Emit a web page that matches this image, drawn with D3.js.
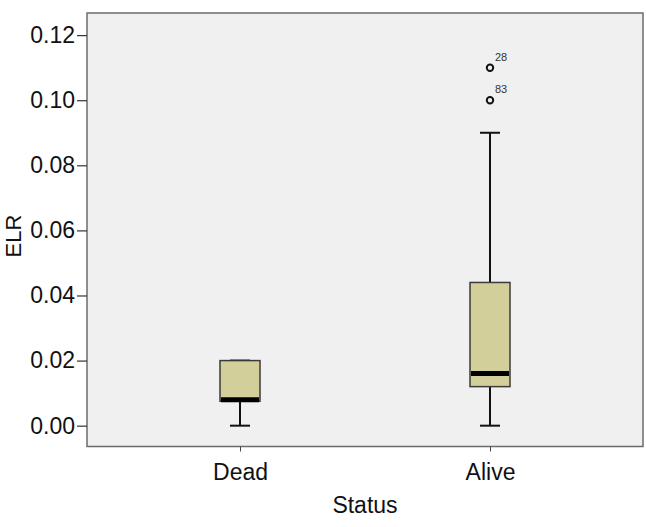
<!DOCTYPE html>
<html>
<head>
<meta charset="utf-8">
<script src="https://cdn.jsdelivr.net/npm/d3@7.9.0/dist/d3.min.js"></script>
<style>
  body { margin: 0; background: #fff; }
  svg text { font-family: Arial, "Liberation Sans", sans-serif; }
</style>
</head>
<body>
<svg id="chart" width="646" height="527"></svg>
<script>
// data
const groups = ["Dead", "Alive"];
const mins = [0.0, 0.0];
const q1s = [0.0075, 0.012];
const medians = [0.008, 0.016];
const q3s = [0.02, 0.044];
const maxs = [0.02, 0.09];
const outlierGroup = ["Alive", "Alive"];
const outlierValues = [0.11, 0.10];
const outlierIds = ["28", "83"];
const yTicks = [0.00, 0.02, 0.04, 0.06, 0.08, 0.10, 0.12];

const svg = d3.select("#chart");
const plotLeft = 87, plotRight = 643, plotTop = 13, plotBottom = 446.5;

const x = d3.scalePoint()
    .domain(groups)
    .range([plotLeft, plotRight])
    .padding(0.612);

const y = d3.scaleLinear()
    .domain([-0.0064, 0.1268])
    .range([plotBottom, plotTop]);

// plot background + frame
svg.append("rect")
    .attr("x", plotLeft).attr("y", plotTop)
    .attr("width", plotRight - plotLeft).attr("height", plotBottom - plotTop)
    .attr("fill", "#f0f0f0")
    .attr("stroke", "#6b6b6b")
    .attr("stroke-width", 1.5);

// y axis
const yAxis = svg.append("g")
    .attr("transform", `translate(${plotLeft},0)`)
    .call(d3.axisLeft(y).tickValues(yTicks).tickFormat(d3.format(".2f"))
        .tickSize(10).tickSizeOuter(0).tickPadding(2));
yAxis.select(".domain").remove();
yAxis.selectAll(".tick line").attr("stroke", "#333").attr("stroke-width", 1.2);
yAxis.selectAll(".tick text").attr("font-size", 23).attr("fill", "#111");

// x axis
const xAxis = svg.append("g")
    .attr("transform", `translate(0,${plotBottom})`)
    .call(d3.axisBottom(x).tickSize(5).tickSizeOuter(0).tickPadding(12));
xAxis.select(".domain").remove();
xAxis.selectAll(".tick line").attr("stroke", "#444");
xAxis.selectAll(".tick text").attr("font-size", 23).attr("fill", "#111");

// axis titles
svg.append("text")
    .attr("transform", "translate(21,236) rotate(-90)")
    .attr("text-anchor", "middle")
    .attr("font-size", 22)
    .attr("fill", "#111")
    .text("ELR");

svg.append("text")
    .attr("x", 365).attr("y", 513)
    .attr("text-anchor", "middle")
    .attr("font-size", 23)
    .attr("fill", "#111")
    .text("Status");

// boxes
const boxW = 40, capW = 20;
const boxes = groups.map((g, i) => ({
  g, min: mins[i], q1: q1s[i], med: medians[i], q3: q3s[i], max: maxs[i]
}));

const bx = svg.selectAll(".box")
    .data(boxes)
    .join("g")
    .attr("class", "box");

// whiskers
bx.append("line")
    .attr("x1", d => x(d.g)).attr("x2", d => x(d.g))
    .attr("y1", d => y(d.min)).attr("y2", d => y(d.q1))
    .attr("stroke", "#111").attr("stroke-width", 2);
bx.append("line")
    .attr("x1", d => x(d.g)).attr("x2", d => x(d.g))
    .attr("y1", d => y(d.q3)).attr("y2", d => y(d.max))
    .attr("stroke", "#111").attr("stroke-width", 2);
// caps
bx.append("line")
    .attr("x1", d => x(d.g) - capW / 2).attr("x2", d => x(d.g) + capW / 2)
    .attr("y1", d => y(d.min)).attr("y2", d => y(d.min))
    .attr("stroke", "#111").attr("stroke-width", 2);
bx.append("line")
    .attr("x1", d => x(d.g) - capW / 2).attr("x2", d => x(d.g) + capW / 2)
    .attr("y1", d => y(d.max)).attr("y2", d => y(d.max))
    .attr("stroke", "#111").attr("stroke-width", 2);
// box
bx.append("rect")
    .attr("x", d => x(d.g) - boxW / 2)
    .attr("width", boxW)
    .attr("y", d => y(d.q3))
    .attr("height", d => y(d.q1) - y(d.q3))
    .attr("fill", "#d3cf9b")
    .attr("stroke", "#3a3a3a")
    .attr("stroke-width", 1.5);
// median
bx.append("line")
    .attr("x1", d => x(d.g) - boxW / 2 + 1).attr("x2", d => x(d.g) + boxW / 2 - 1)
    .attr("y1", d => y(d.med)).attr("y2", d => y(d.med))
    .attr("stroke", "#000").attr("stroke-width", 5);

// outliers
const outliers = outlierValues.map((v, i) => ({ g: outlierGroup[i], v, id: outlierIds[i] }));
svg.selectAll(".outlier")
    .data(outliers)
    .join("circle")
    .attr("class", "outlier")
    .attr("cx", d => x(d.g))
    .attr("cy", d => y(d.v))
    .attr("r", 3.2)
    .attr("fill", "none")
    .attr("stroke", "#111")
    .attr("stroke-width", 2);

svg.selectAll(".outlier-label")
    .data(outliers)
    .join("text")
    .attr("class", "outlier-label")
    .attr("x", d => x(d.g) + 5)
    .attr("y", d => y(d.v) - 7)
    .attr("font-size", 11)
    .attr("fill", "#333")
    .text(d => d.id);
</script>
</body>
</html>
